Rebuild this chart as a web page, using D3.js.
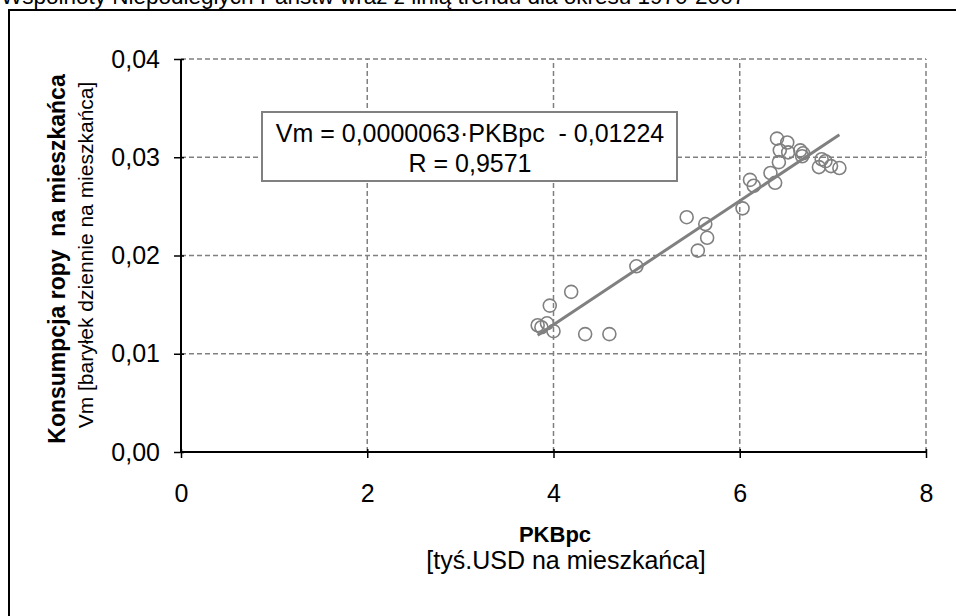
<!DOCTYPE html>
<html>
<head>
<meta charset="utf-8">
<script src="https://cdn.jsdelivr.net/npm/d3@7"></script>
<style>
  html, body { margin: 0; padding: 0; background: #fff; }
  svg { display: block; font-family: "Liberation Sans", Arial, sans-serif; }
</style>
</head>
<body>
<svg id="chart" width="956" height="616"></svg>
<script>
// GDP per capita [thousand USD] and oil consumption per capita [bbl/day]
const pkb = [3.83, 3.87, 3.93, 3.96, 4.00, 4.19, 4.34, 4.60, 4.89, 5.43, 5.55, 5.63, 5.65,
             6.03, 6.11, 6.15, 6.33, 6.38, 6.40, 6.42, 6.43, 6.51, 6.52, 6.65, 6.67, 6.68,
             6.85, 6.88, 6.92, 6.98, 7.07];
const vm  = [0.0129, 0.0127, 0.0131, 0.0149, 0.0123, 0.0163, 0.0120, 0.0120, 0.0189, 0.0239, 0.0205, 0.0232, 0.0218,
             0.0248, 0.0277, 0.0271, 0.0284, 0.0274, 0.0319, 0.0295, 0.0307, 0.0315, 0.0305, 0.0307, 0.0301, 0.0304,
             0.0290, 0.0298, 0.0296, 0.0291, 0.0289];

// Trend line: Vm = 0,0000063 * PKBpc[USD] - 0,01224
const trendSlope = 0.0000063;
const trendIntercept = -0.01224;
const rValue = "0,9571";

const xTicks = [0, 2, 4, 6, 8];
const yTicks = [0, 0.01, 0.02, 0.03, 0.04];

const titleText = "Wspólnoty Niepodległych Państw wraz z linią trendu dla okresu 1970-2007";
const xTitle = "PKBpc";
const xSubtitle = "[tyś.USD na mieszkańca]";
const yTitle = "Konsumpcja ropy  na mieszkańca";
const ySubtitle = "Vm [baryłek dziennie na mieszkańca]";

const svg = d3.select("#chart");
const x = d3.scaleLinear().domain([0, 8]).range([181, 926]);
const y = d3.scaleLinear().domain([0, 0.04]).range([452, 59]);
const fmtY = v => d3.format(".2f")(v).replace(".", ",");
const grey = "#808080";

// Chart title (its upper part runs past the top of the page)
svg.append("text").attr("x", 1).attr("y", 4)
  .attr("font-size", 22.5).attr("fill", "#000").text(titleText);

// Outer frame
svg.append("rect").attr("x", 9).attr("y", 10).attr("width", 960).attr("height", 620)
  .attr("fill", "none").attr("stroke", "#000").attr("stroke-width", 2);

// Gridlines
svg.append("g").selectAll("line").data(yTicks.filter(d => d > 0)).join("line")
  .attr("x1", x(0)).attr("x2", x(8)).attr("y1", d => y(d)).attr("y2", d => y(d))
  .attr("stroke", grey).attr("stroke-width", 1.5).attr("stroke-dasharray", "5,3");
svg.append("g").selectAll("line").data(xTicks.filter(d => d > 0)).join("line")
  .attr("x1", d => x(d)).attr("x2", d => x(d)).attr("y1", y(0)).attr("y2", y(0.04))
  .attr("stroke", grey).attr("stroke-width", 1.5).attr("stroke-dasharray", "5,3");

// Axes
const xAxis = svg.append("g").attr("transform", `translate(0,${y(0)})`)
  .call(d3.axisBottom(x).tickValues(xTicks).tickSize(6).tickPadding(26).tickFormat(d3.format("d")));
const yAxis = svg.append("g").attr("transform", `translate(${x(0)},0)`)
  .call(d3.axisLeft(y).tickValues(yTicks).tickSize(7).tickPadding(14).tickFormat(fmtY));
[xAxis, yAxis].forEach(a => {
  a.select(".domain").attr("stroke", "#000").attr("stroke-width", 2);
  a.selectAll(".tick line").attr("stroke", "#000").attr("stroke-width", 1.5);
  a.selectAll(".tick text").attr("font-size", 25).attr("fill", "#000")
    .attr("font-family", "'Liberation Sans', Arial, sans-serif");
});
xAxis.selectAll(".tick line").attr("y1", -3);
yAxis.selectAll(".tick line").attr("x1", 3);
xAxis.select(".domain").attr("d", `M${x(0)},0H${x(8)}`);
yAxis.select(".domain").attr("d", `M0,${y(0)}V${y(0.04)}`);

// Trend line over the observed range
const xMin = d3.min(pkb), xMax = d3.max(pkb);
const trend = v => trendSlope * v * 1000 + trendIntercept;
svg.append("line")
  .attr("x1", x(xMin)).attr("y1", y(trend(xMin)))
  .attr("x2", x(xMax)).attr("y2", y(trend(xMax)))
  .attr("stroke", grey).attr("stroke-width", 3);

// Observations
svg.append("g").selectAll("circle").data(pkb.map((v, i) => [v, vm[i]])).join("circle")
  .attr("cx", d => x(d[0])).attr("cy", d => y(d[1])).attr("r", 6.5)
  .attr("fill", "none").attr("stroke", grey).attr("stroke-width", 1.6);

// Equation box
svg.append("rect").attr("x", 262).attr("y", 112).attr("width", 415).attr("height", 69)
  .attr("fill", "#fff").attr("stroke", grey).attr("stroke-width", 2);
const eq = svg.append("text").attr("text-anchor", "middle").attr("font-size", 25).attr("fill", "#000")
  .attr("xml:space", "preserve");
eq.append("tspan").attr("x", 470).attr("y", 142)
  .text(`Vm = ${String(trendSlope.toFixed(7)).replace(".", ",")}·PKBpc  - ${String(Math.abs(trendIntercept)).replace(".", ",")}`);
eq.append("tspan").attr("x", 470).attr("y", 172).text(`R = ${rValue}`);

// Axis titles
svg.append("text").attr("x", 555).attr("y", 542).attr("text-anchor", "middle")
  .attr("font-size", 22).attr("font-weight", "bold").text(xTitle);
svg.append("text").attr("x", 566).attr("y", 569).attr("text-anchor", "middle")
  .attr("font-size", 25).text(xSubtitle);
svg.append("text").attr("transform", "translate(65,259) rotate(-90)").attr("text-anchor", "middle")
  .attr("font-size", 23).attr("font-weight", "bold").attr("xml:space", "preserve").text(yTitle);
svg.append("text").attr("transform", "translate(93,255) rotate(-90)").attr("text-anchor", "middle")
  .attr("font-size", 21).text(ySubtitle);
</script>
</body>
</html>
